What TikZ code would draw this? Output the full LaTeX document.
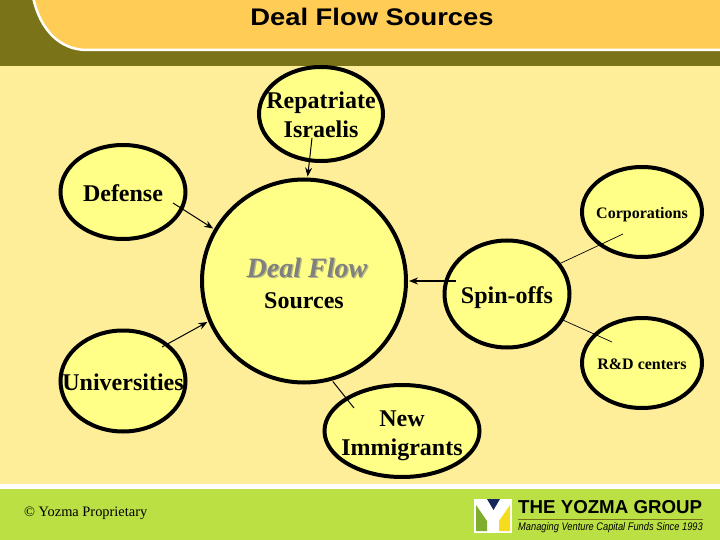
\documentclass[tikz,border=0pt]{standalone}
\usepackage{fontspec}
\usepackage{xcolor}
\usetikzlibrary{shapes.geometric,arrows.meta}
\setmainfont{Liberation Serif}
\newfontfamily\titlefont[FakeStretch=1.14]{Liberation Sans}
\newfontfamily\logofont{Liberation Sans}
\newfontfamily\logolinefont[FakeStretch=0.845]{Liberation Sans}
\definecolor{olivebar}{HTML}{7A7318}
\definecolor{headerfill}{HTML}{FFCC55}
\definecolor{pagefill}{HTML}{FFEE99}
\definecolor{bubblefill}{HTML}{FFFF88}
\definecolor{footerfill}{HTML}{BBE044}
\definecolor{logonavy}{HTML}{14285A}
\definecolor{logogreen}{HTML}{7FAE2E}
\definecolor{logoyellow}{HTML}{F5DC1E}
\definecolor{dealgray}{HTML}{808080}
\definecolor{dealshadow}{HTML}{B8B880}
\newcommand{\bubbletext}[2][4pt]{\makebox[0pt]{\raisebox{-#1}[\height][\depth]{\begin{tabular}{@{}c@{}}#2\end{tabular}}}}
\newcommand{\dealshadowed}[1]{\makebox[0pt][l]{\kern1.2pt\raisebox{-1.2pt}{\color{dealshadow}#1}}{\color{dealgray}#1}}
\tikzset{
  bubble/.style={ellipse, draw=black, line width=4pt, fill=bubblefill, inner sep=0pt, outer sep=0pt,
    font=\fontsize{24}{29}\selectfont\bfseries},
  smallbubble/.style={bubble, font=\fontsize{16}{19}\selectfont\bfseries},
  feeder/.style={-{Stealth[length=9pt,width=7pt]}, line width=1pt},
  branch/.style={line width=0.7pt}
}
\begin{document}
\begin{tikzpicture}[x=1pt,y=-1pt]
\useasboundingbox (0,0) rectangle (720,540);

% backgrounds
\fill[pagefill] (0,0) rectangle (720,540);
\fill[olivebar] (0,0) rectangle (720,66);
\fill[headerfill, draw=white, line width=2.5pt] (33,-3) .. controls (40,30) and (60,50) .. (87,50) -- (723,50) -- (723,-3) -- cycle;
\fill[white] (0,484) rectangle (720,489);
\fill[footerfill] (0,489) rectangle (720,540);

\node (title) at (372,17) {\titlefont\fontsize{24}{24}\selectfont\bfseries Deal Flow Sources};

% bubbles
\node[bubble, minimum width=124pt, minimum height=94pt] (repatriate) at (321,114) {\bubbletext[3pt]{Repatriate\\Israelis}};
\node[bubble, minimum width=125pt, minimum height=94pt] (defense) at (123,192) {\bubbletext{Defense}};
\node[bubble, outer sep=3pt, minimum width=204pt, minimum height=203pt] (dealflow) at (304,281) {\bubbletext[6pt]{\hspace*{6pt}{\fontsize{28}{30}\selectfont\itshape\dealshadowed{Deal Flow}}\\[2pt]Sources}};
\node[bubble, minimum width=125pt, minimum height=107pt] (spinoffs) at (507,294) {\bubbletext{Spin-offs}};
\node[smallbubble, minimum width=120pt, minimum height=90pt] (corporations) at (642,212) {\bubbletext[3pt]{Corporations}};
\node[smallbubble, minimum width=120pt, minimum height=90pt] (rdcenters) at (642,363) {\bubbletext[3pt]{R\&D centers}};
\node[bubble, minimum width=125pt, minimum height=101pt] (universities) at (123,381) {\bubbletext{Universities}};
\node[bubble, minimum width=155pt, minimum height=92pt] (immigrants) at (402,431) {\bubbletext{New\\Immigrants}};

% connector tails
\coordinate (repatriatetail) at (312,138);
\coordinate (defensetail) at (173,203);
\coordinate (spinoffstail) at (456,281);
\coordinate (universitiestail) at (162,347);
\coordinate (immigrantstail) at (354,408);
\coordinate (corporationstail) at (623,234);
\coordinate (rdtail) at (612,342);

\draw[feeder] (repatriatetail) -- (dealflow.88);
\draw[feeder] (defensetail) -- (dealflow.150);
\draw[feeder, line width=2pt] (spinoffstail) -- (dealflow.0);
\draw[feeder] (universitiestail) -- (dealflow.203);
\draw[line width=1pt] (immigrantstail) -- (dealflow.286);
\draw[branch] (corporationstail) -- (spinoffs.30);
\draw[branch] (rdtail) -- (spinoffs.-25);

% footer
\node[anchor=west, inner sep=0pt, font=\fontsize{14.4}{15}\selectfont] (proprietary) at (24,513) {© Yozma Proprietary};
\fill[white] (474,499) rectangle (512,533);
\fill[logonavy] (487,499) -- (500,499) -- (493.5,510) -- cycle;
\fill[logogreen] (476,505) -- (487,521) -- (487,531) -- (476,531) -- cycle;
\fill[logoyellow] (510,505) -- (499,521) -- (499,531) -- (510,531) -- cycle;
\node[anchor=west, inner sep=0pt, font=\logofont\fontsize{18.7}{19}\selectfont\bfseries] (logotitle) at (518,507) {THE YOZMA GROUP};
\draw[olivebar, line width=0.7pt] (518,519) -- (703,519);
\node[anchor=west, inner sep=0pt, font=\logolinefont\fontsize{11}{11}\selectfont\itshape] (logoline) at (518,528) {Managing Venture Capital Funds Since 1993};
\end{tikzpicture}
\end{document}
